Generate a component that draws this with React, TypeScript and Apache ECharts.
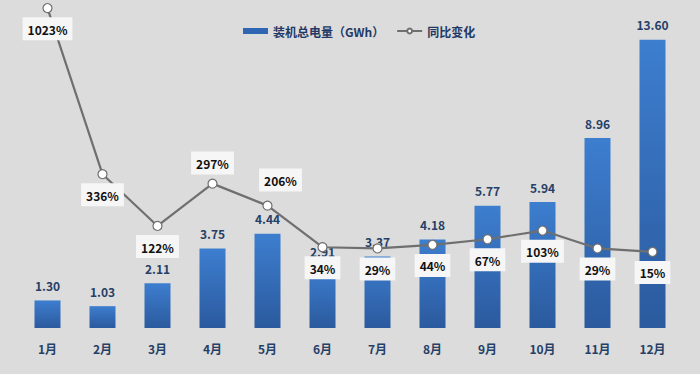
import React, { useEffect, useRef } from "react";
import * as echarts from "echarts";

const months = ["1月", "2月", "3月", "4月", "5月", "6月", "7月", "8月", "9月", "10月", "11月", "12月"];
const capacity = [1.3, 1.03, 2.11, 3.75, 4.44, 2.91, 3.37, 4.18, 5.77, 5.94, 8.96, 13.6];
const yoy = [1023, 336, 122, 297, 206, 34, 29, 44, 67, 103, 29, 15];
const labelAbove = [false, false, false, true, true, false, false, false, false, false, false, false];

const navy = "#263f66";
const font = "'Noto Sans CJK SC', 'Noto Sans', sans-serif";

export default function App() {
  const ref = useRef<HTMLDivElement>(null);
  useEffect(() => {
    document.body.style.margin = "0";
    document.body.style.background = "#dcdcdc";
    if (!ref.current) return;
    const chart = echarts.init(ref.current, undefined, { renderer: "svg" });
    chart.setOption({
      animation: false,
      backgroundColor: "#dcdcdc",
      textStyle: { fontFamily: font },
      legend: {
        left: 238,
        top: 20,
        itemGap: 12,
        textStyle: { color: "#1f3a66", fontSize: 12, fontWeight: "bold", fontFamily: font },
        data: [
          { name: "装机总电量（GWh）", icon: "rect", itemStyle: { color: "#2f66b4" } },
          { name: "同比变化" },
        ],
        itemWidth: 25,
        itemHeight: 6,
      },
      grid: { left: 20, right: 20, top: 10, bottom: 46, containLabel: false },
      xAxis: {
        type: "category",
        data: months,
        axisLine: { show: false },
        axisTick: { show: false },
        axisLabel: { color: navy, fontSize: 12, fontWeight: "bold", margin: 14, fontFamily: font },
      },
      yAxis: [
        { type: "value", min: 0, max: 15, show: false, splitLine: { show: false } },
        { type: "value", min: -300, max: 1015, show: false, splitLine: { show: false } },
      ],
      series: [
        {
          name: "装机总电量（GWh）",
          type: "bar",
          data: capacity,
          barWidth: 26,
          yAxisIndex: 0,
          itemStyle: {
            color: new echarts.graphic.LinearGradient(0, 0, 0, 1, [
              { offset: 0, color: "#3d7ecf" },
              { offset: 1, color: "#2b5a9e" },
            ]),
          },
          label: {
            show: true,
            position: "top",
            distance: 9,
            color: navy,
            fontSize: 12,
            fontWeight: "bold",
            fontFamily: font,
            formatter: (p: any) => Number(p.value).toFixed(2),
          },
          z: 2,
        },
        {
          name: "同比变化",
          type: "line",
          yAxisIndex: 1,
          clip: false,
          symbol: "circle",
          symbolSize: 9,
          lineStyle: { color: "#6f6f6f", width: 2.2 },
          itemStyle: { color: "#ffffff", borderColor: "#6f6f6f", borderWidth: 1.2 },
          data: yoy.map((v, i) => ({
            value: v,
            label: labelAbove[i]
              ? { position: "top", distance: i === 4 ? 9 : 4, offset: i === 4 ? [13, 0] : [0, 0] }
              : { position: "bottom", distance: 4 },
          })),
          label: {
            show: true,
            color: "#111111",
            fontSize: 12,
            fontWeight: "bold",
            fontFamily: font,
            backgroundColor: "#f6f6f6",
            padding: [6, 5, 5, 5],
            formatter: (p: any) => p.value + "%",
          },
          z: 5,
        },
      ],
    });
    return () => chart.dispose();
  }, []);
  return <div ref={ref} style={{ width: 700, height: 374 }} />;
}
